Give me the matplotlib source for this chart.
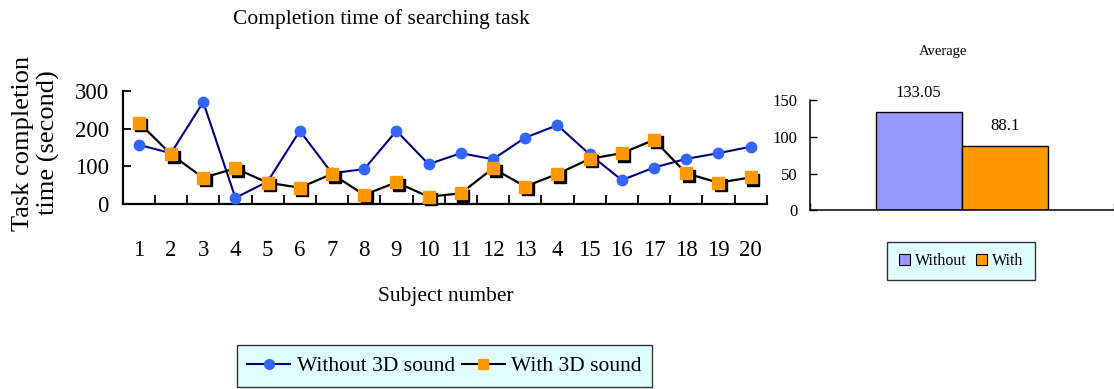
import matplotlib
matplotlib.use("Agg")
import matplotlib.pyplot as plt
import matplotlib.transforms as mtransforms
from matplotlib.lines import Line2D
from matplotlib.patches import Patch

# Per-subject completion times (seconds)
subjects = list(range(1, 21))
subject_labels = ["1", "2", "3", "4", "5", "6", "7", "8", "9", "10",
                  "11", "12", "13", "4", "15", "16", "17", "18", "19", "20"]
without_3d = [157, 135, 270, 17, 60, 194, 82, 93, 194, 106,
              135, 119, 176, 209, 132, 64, 97, 120, 135, 152]
with_3d = [216, 132, 70, 95, 57, 44, 80, 25, 58, 20,
           29, 95, 47, 80, 120, 135, 170, 82, 57, 71]

# Averages
avg_labels = ["Without", "With"]
avg_values = [133.05, 88.1]

plt.rcParams["font.family"] = ["Liberation Serif", "DejaVu Serif"]

W, H = 1114, 389
fig = plt.figure(figsize=(W / 100, H / 100), dpi=100)


def fx(px):
    return px / W


def fy(py):
    return 1 - py / H


blue = "#3366ff"
navy = "#000080"
orange = "#ff9900"

# ---- Line chart ----
ax = fig.add_axes([fx(122.7), fy(204.3), fx(766.7) - fx(122.7), fy(90.7) - fy(204.3)])
ax.plot(subjects, without_3d, color=navy, lw=1.5, marker="o", ms=7.5,
        mfc=blue, mec=blue, zorder=3)
ax.plot(subjects, with_3d, color="black", lw=1.6, zorder=4)
shadow = mtransforms.offset_copy(ax.transData, fig=fig, x=2.5, y=-2.5, units="dots")
ax.plot(subjects, with_3d, ls="none", marker="s", ms=8.5, mfc="black", mec="black",
        transform=shadow, zorder=5)
ax.plot(subjects, with_3d, ls="none", marker="s", ms=8.5, mfc=orange, mec=orange,
        zorder=6)

ax.set_xlim(0.5, 20.5)
ax.set_ylim(0, 300)
ax.set_yticks([0, 100, 200, 300])
ax.tick_params(axis="y", direction="in", length=6, width=1.3, labelsize=16.5, pad=10)
ax.set_xticks([i + 0.5 for i in range(0, 21)])
ax.set_xticklabels([])
ax.set_xticks(subjects, minor=True)
ax.set_xticklabels(subject_labels, minor=True)
ax.tick_params(axis="x", which="major", direction="in", length=6.5, width=1.3)
ax.tick_params(axis="x", which="minor", length=0, labelsize=16.5, pad=26)
for s in ("top", "right"):
    ax.spines[s].set_visible(False)
for s in ("left", "bottom"):
    ax.spines[s].set_linewidth(1.6)
for ln in ax.lines:
    ln.set_clip_on(False)

fig.text(fx(381), fy(19), "Completion time of searching task", fontsize=15.5,
         ha="center", va="center")
fig.text(fx(446), fy(297), "Subject number", fontsize=15.5, ha="center", va="center")
fig.text(fx(36), fy(143), "Task completion\ntime (second)", fontsize=19,
         rotation=90, ha="center", va="center", linespacing=1.15)

line_handles = [
    Line2D([], [], color=navy, lw=1.5, marker="o", ms=7, mfc=blue, mec=blue),
    Line2D([], [], color="black", lw=1.5, marker="s", ms=7, mfc=orange, mec=orange),
]
leg = fig.legend(line_handles, ["Without 3D sound", "With 3D sound"], ncol=2,
                 loc="center", bbox_to_anchor=(fx(444.5), fy(366)), fontsize=15.5,
                 frameon=True, fancybox=False, handlelength=2.0, handletextpad=0.3,
                 columnspacing=0.3, borderpad=0.5, borderaxespad=0)
leg.get_frame().set_facecolor("#e0ffff")
leg.get_frame().set_edgecolor("#333333")
leg.get_frame().set_linewidth(1.0)
leg.get_frame().set_alpha(1)

# ---- Average bar chart ----
bx = fig.add_axes([fx(810), fy(210.3), fx(1113.5) - fx(810), fy(100) - fy(210.3)])
bars = bx.bar([0.3586, 0.643], avg_values, width=0.285,
              color=["#9999ff", orange], edgecolor="black", linewidth=1.0)
bx.bar_label(bars, labels=["133.05", "88.1"], padding=8, fontsize=12)
bx.set_xlim(0, 1)
bx.set_ylim(0, 150)
bx.set_yticks([0, 50, 100, 150])
bx.set_xticks([0, 1])
bx.set_xticklabels([])
bx.tick_params(axis="y", direction="in", length=5, width=1.0, labelsize=12, pad=9)
bx.tick_params(axis="x", direction="in", length=5, width=1.0)
for s in ("top", "right"):
    bx.spines[s].set_visible(False)
for s in ("left", "bottom"):
    bx.spines[s].set_linewidth(1.1)
fig.text(fx(943), fy(52), "Average", fontsize=10.5, ha="center", va="center")

bar_handles = [Patch(facecolor="#9999ff", edgecolor="black", lw=0.8),
               Patch(facecolor=orange, edgecolor="black", lw=0.8)]
bleg = fig.legend(bar_handles, avg_labels, ncol=2, loc="center",
                  bbox_to_anchor=(fx(961), fy(260.7)), fontsize=11.5, frameon=True,
                  fancybox=False, handlelength=0.7, handleheight=0.7,
                  handletextpad=0.3, columnspacing=0.6, borderpad=0.7, borderaxespad=0)
bleg.get_frame().set_facecolor("#e0ffff")
bleg.get_frame().set_edgecolor("#333333")
bleg.get_frame().set_linewidth(1.0)
bleg.get_frame().set_alpha(1)

fig.savefig("out.png", dpi=100)
